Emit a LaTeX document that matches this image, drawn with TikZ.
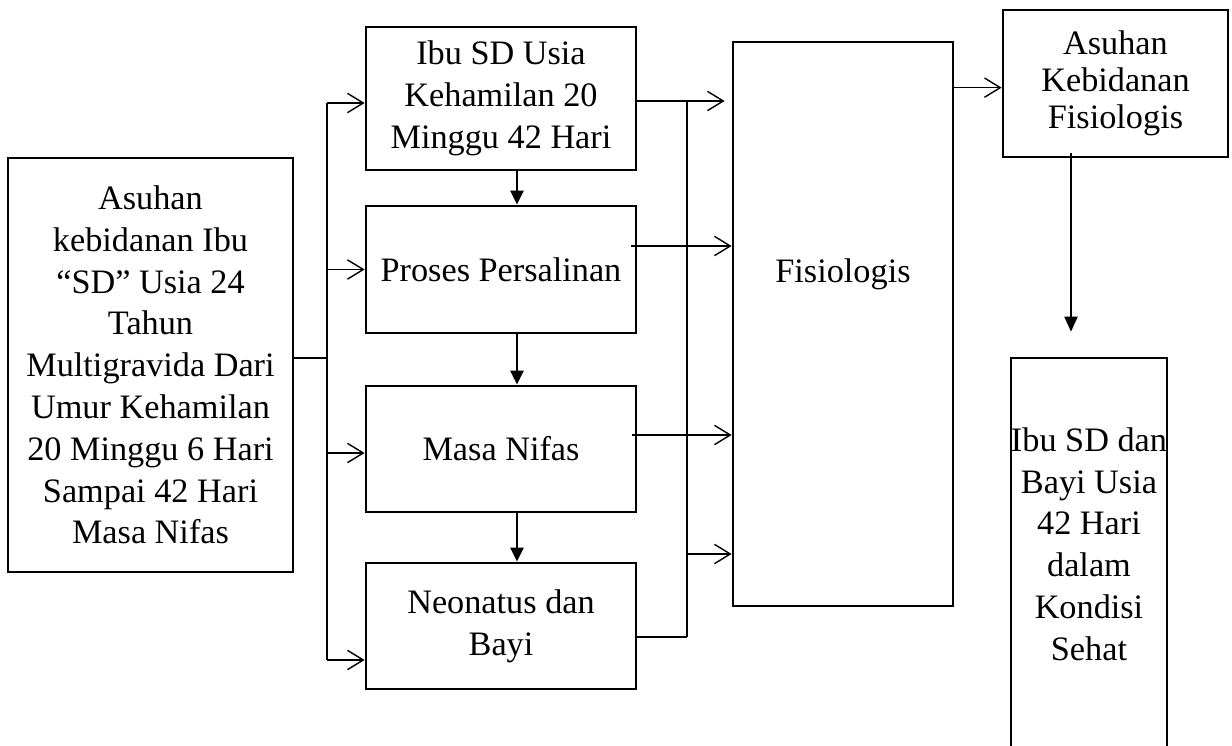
\documentclass[tikz,border=0pt]{standalone}
\usepackage{fontspec}
\setmainfont{Liberation Serif}
\usetikzlibrary{arrows.meta,calc}

\begin{document}
\begin{tikzpicture}[x=0.02cm, y=-0.02cm,
flowbox/.style={rectangle, draw=black, line width=1.6pt, align=center, inner sep=0pt, font=\fontsize{19.5pt}{23.8pt}\selectfont},
link/.style={line width=0.8pt},
openarrow/.style={link, -{Straight Barb[length=9pt,width=11pt]}},
filledarrow/.style={line width=1.2pt, -{Triangle[length=8pt,width=7.5pt]}},
]
\useasboundingbox (0,0) rectangle (1232,746);
%Nodes
\node[flowbox, minimum width=5.7cm, minimum height=8.28cm] (mainbox) at (150.5,365) {Asuhan\\kebidanan Ibu\\“SD” Usia 24\\Tahun\\Multigravida Dari\\Umur Kehamilan\\20 Minggu 6 Hari\\Sampai 42 Hari\\Masa Nifas};
\node[flowbox, minimum width=5.4cm, minimum height=2.86cm] (hamil) at (501,98.5) {Ibu SD Usia\\Kehamilan 20\\Minggu 42 Hari};
\node[flowbox, minimum width=5.4cm, minimum height=2.54cm] (salin) at (501,269.5) {Proses Persalinan};
\node[flowbox, minimum width=5.4cm, minimum height=2.52cm] (nifas) at (501,449) {Masa Nifas};
\node[flowbox, minimum width=5.4cm, minimum height=2.52cm] (bayi) at (501,626) {Neonatus dan\\Bayi};
\node[flowbox, minimum width=4.4cm, minimum height=11.28cm, label={[font=\fontsize{19.5pt}{23.8pt}\selectfont, yshift=1cm]center:Fisiologis}] (fisio) at (843,324) {};
\node[flowbox, minimum width=4.5cm, minimum height=2.94cm, font=\fontsize{19.5pt}{21pt}\selectfont] (asuhan) at (1115.5,83.5) {Asuhan\\Kebidanan\\Fisiologis};
\node[flowbox, minimum width=3.12cm, minimum height=8.24cm, label={[align=center, font=\fontsize{19.5pt}{23.8pt}\selectfont, yshift=0.4cm]center:Ibu SD dan\\Bayi Usia\\42 Hari\\dalam\\Kondisi\\Sehat}] (sehat) at (1089,564) {};

%Lines
\coordinate (splitL) at (327,358);
\coordinate (busLtop) at (327,103);
\coordinate (busLbot) at (327,660);
\draw[link] (mainbox.east |- splitL) -- (splitL);
\draw[link] (busLtop) -- (busLbot);
\draw[openarrow] (busLtop) -- (busLtop -| hamil.west);
\draw[openarrow] (busLtop |- salin.west) -- (salin.west);
\draw[openarrow] ($(busLtop |- nifas.west)+(0,4)$) coordinate (p3) -- (p3 -| nifas.west);
\draw[openarrow] (busLbot) -- (busLbot -| bayi.west);

\coordinate (busRtop) at (687,101);
\coordinate (busRbot) at (687,637);
\coordinate (busRmid) at (687,554);
\draw[openarrow] (hamil.east |- busRtop) -- ($(fisio.west |- busRtop)+(-7,0)$);
\draw[link] (busRtop) -- (busRbot);
\draw[openarrow] ($(salin.east)+(-6,-23.5)$) coordinate (p2) -- (p2 -| fisio.west);
\draw[openarrow] ($(nifas.east)+(-5,-14)$) coordinate (p4) -- (p4 -| fisio.west);
\draw[openarrow] (busRmid) -- (busRmid -| fisio.west);
\draw[link] (bayi.east |- busRbot) -- (busRbot);

\foreach \a/\b in {hamil/salin, salin/nifas, nifas/bayi}
  \draw[filledarrow] ([xshift=0.32cm]\a.south) -- ([xshift=0.32cm]\b.north);

\draw[openarrow] ($(fisio.north east)+(0,47)$) coordinate (p5) -- (p5 -| asuhan.west);
\coordinate (drop) at ($(asuhan.south)+(-44.5,-5)$);
\coordinate (goal) at ($(sehat.north)+(-18,-25)$);
\draw[link, -{Triangle[length=8.5pt,width=7.5pt]}] (drop) -- (drop |- goal);

\end{tikzpicture}
\end{document}
